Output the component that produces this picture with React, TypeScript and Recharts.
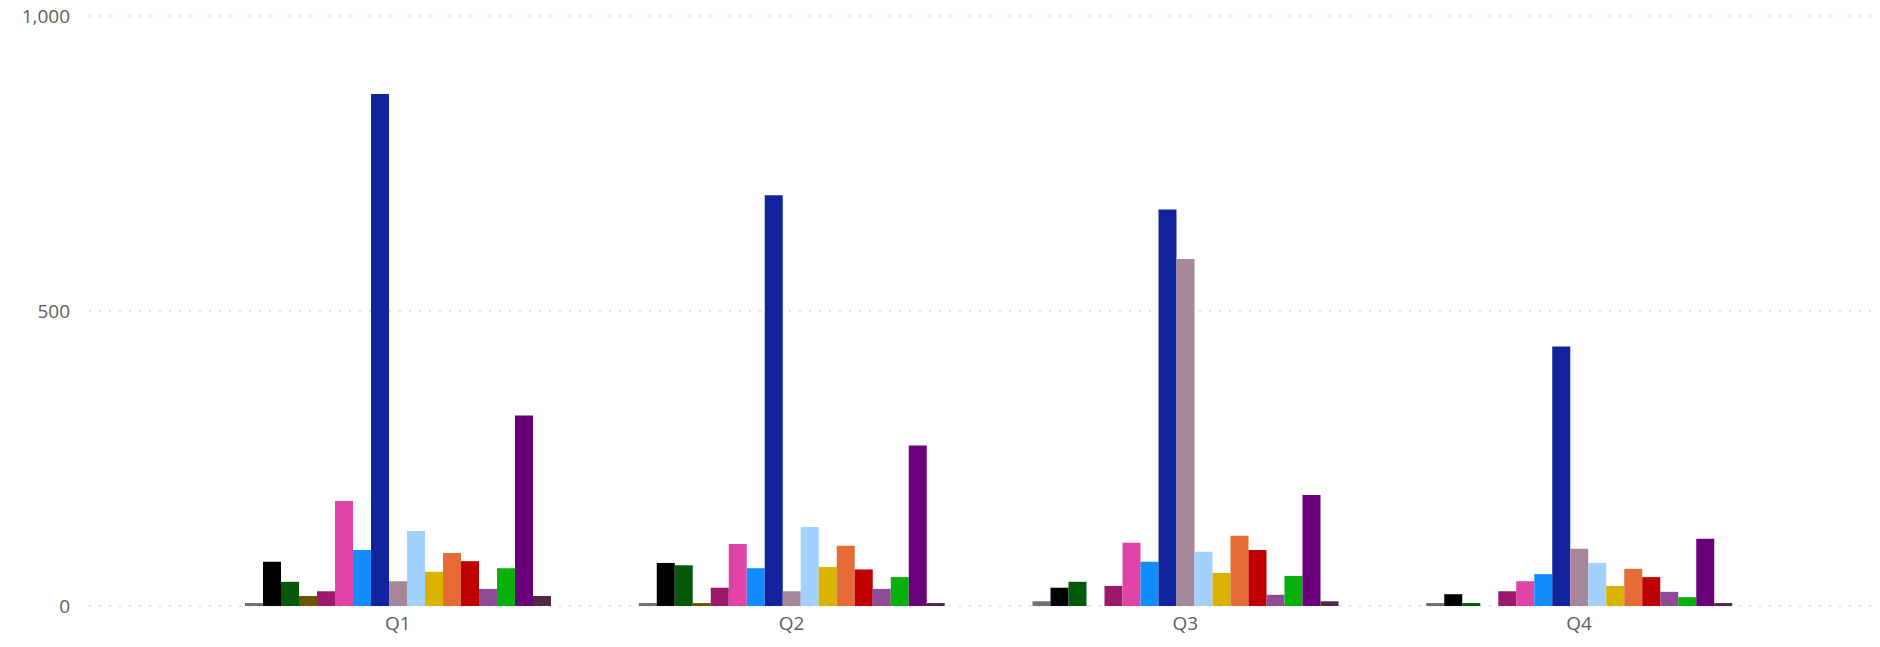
import React from "react";
import { BarChart, Bar, XAxis, YAxis, CartesianGrid } from "recharts";

const categories = ["Q1", "Q2", "Q3", "Q4"];

const slate = [5, 5, 8, 5];
const black = [75, 73, 31, 20];
const forest = [41, 69, 41, 5];
const olive = [17, 5, 0, 0];
const magenta = [25, 31, 34, 25];
const pink = [178, 105, 107, 42];
const blue = [95, 64, 75, 54];
const navy = [868, 696, 672, 440];
const mauve = [42, 25, 588, 97];
const sky = [127, 134, 92, 73];
const gold = [58, 66, 56, 34];
const orange = [90, 102, 119, 63];
const red = [76, 62, 95, 49];
const lavender = [29, 29, 19, 24];
const green = [64, 49, 51, 15];
const violet = [323, 272, 188, 114];
const plum = [17, 5, 8, 5];

const yTicks = [0, 500, 1000];

const series = [
  { key: "slate", values: slate },
  { key: "black", values: black },
  { key: "forest", values: forest },
  { key: "olive", values: olive },
  { key: "magenta", values: magenta },
  { key: "pink", values: pink },
  { key: "blue", values: blue },
  { key: "navy", values: navy },
  { key: "mauve", values: mauve },
  { key: "sky", values: sky },
  { key: "gold", values: gold },
  { key: "orange", values: orange },
  { key: "red", values: red },
  { key: "lavender", values: lavender },
  { key: "green", values: green },
  { key: "violet", values: violet },
  { key: "plum", values: plum },
];

const colors: Record<string, string> = {
  slate: "#6E6D78",
  black: "#000000",
  forest: "#04590A",
  olive: "#6B5700",
  magenta: "#9C186A",
  pink: "#E044A7",
  blue: "#118DFF",
  navy: "#12239E",
  mauve: "#A6879A",
  sky: "#A2D0FF",
  gold: "#D9B300",
  orange: "#E66C37",
  red: "#C00000",
  lavender: "#8E4C96",
  green: "#06B10D",
  violet: "#6B007B",
  plum: "#522945",
};

const data = categories.map((c, i) => {
  const row: Record<string, string | number> = { quarter: c };
  series.forEach((s) => {
    row[s.key] = s.values[i];
  });
  return row;
});

const font = "'Open Sans', 'Noto Sans', sans-serif";
const tickStyle = { fill: "#605E5C", fontSize: "19px", fontFamily: font };

export default function App() {
  return (
    <div style={{ position: "absolute", left: 0, top: 0, background: "#fff" }}>
      <BarChart
        width={1880}
        height={647}
        data={data}
        margin={{ top: 16, right: 2, bottom: 11, left: 0 }}
        barGap={0}
        barSize={18}
        style={{ fontFamily: font }}
      >
        <CartesianGrid
          vertical={false}
          stroke="#C8C8C8"
          strokeDasharray="2 8"
        />
        <XAxis
          dataKey="quarter"
          axisLine={false}
          tickLine={false}
          tickSize={0}
          tickMargin={11}
          height={30}
          padding={{ left: 112, right: 102 }}
          tick={{ ...tickStyle, style: tickStyle }}
        />
        <YAxis
          domain={[0, 1000]}
          ticks={yTicks}
          axisLine={false}
          tickLine={false}
          tickSize={0}
          tickMargin={19}
          width={89}
          tickFormatter={(v: number) => v.toLocaleString("en-US")}
          tick={{ ...tickStyle, style: tickStyle }}
        />
        {series.map((s) => (
          <Bar
            key={s.key}
            dataKey={s.key}
            fill={colors[s.key]}
            isAnimationActive={false}
          />
        ))}
      </BarChart>
    </div>
  );
}
